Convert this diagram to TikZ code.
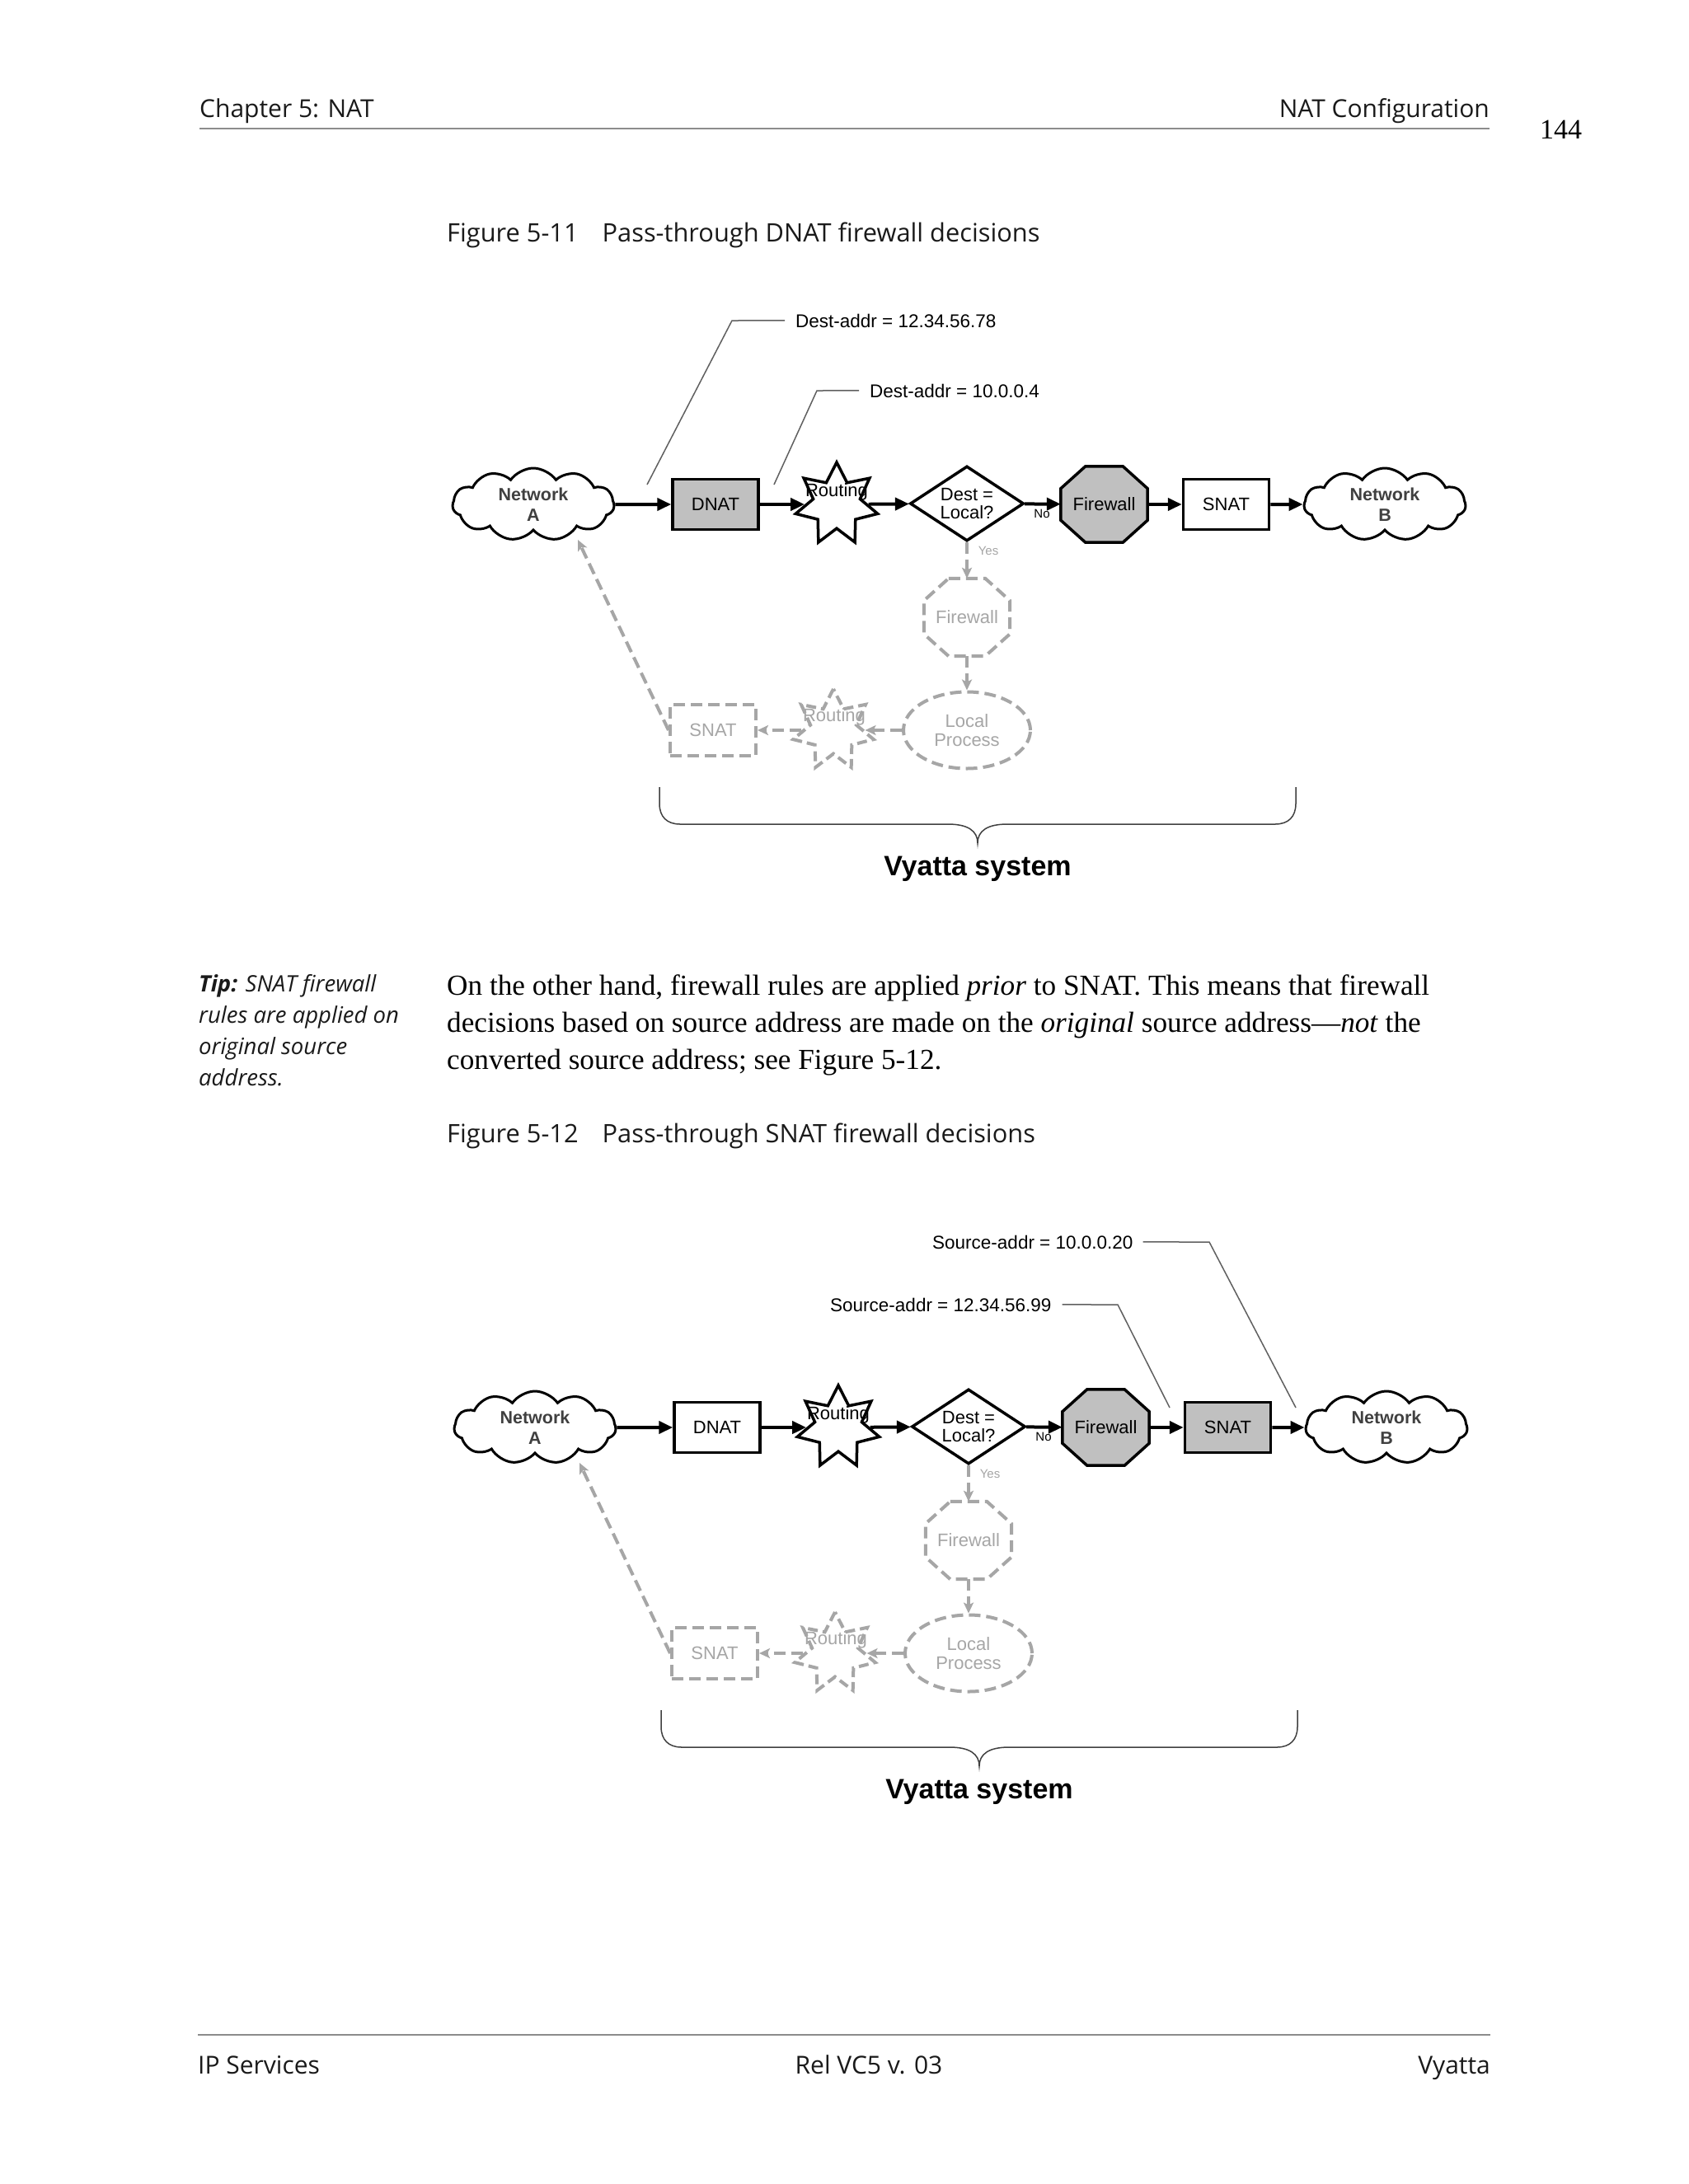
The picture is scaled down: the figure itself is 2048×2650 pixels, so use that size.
\documentclass[tikz,border=0pt]{standalone}
\usepackage{fontspec}
\setmainfont{Liberation Serif}
\newfontfamily\arialf{Liberation Sans}
\newfontfamily\frutf{Open Sans}
\usetikzlibrary{shapes.geometric,shapes.symbols,arrows.meta,calc}
\pgfdeclarelayer{pagebg}
\pgfdeclarelayer{bg}
\pgfsetlayers{pagebg,bg,main}
\definecolor{boxgray}{HTML}{C0C0C0}
\definecolor{dashgray}{HTML}{A6A6A6}
\definecolor{netgray}{HTML}{404040}
\definecolor{anngray}{HTML}{606060}
\definecolor{rulegray}{HTML}{8C8C8C}
\definecolor{pagetext}{HTML}{1A1A1A}

\newcommand\vylab{\arialf\fontsize{22}{22}\selectfont}
\newcommand\vyocto[3]{%
\begin{pgfonlayer}{bg}
\draw[#3, fill=#2] ([xshift=30pt]#1.north west) -- ([xshift=-30pt]#1.north east) -- ([yshift=-27pt]#1.north east) -- ([yshift=27pt]#1.south east) -- ([xshift=-30pt]#1.south east) -- ([xshift=30pt]#1.south west) -- ([yshift=27pt]#1.south west) -- ([yshift=-27pt]#1.north west) -- cycle;
\end{pgfonlayer}}

\tikzset{
  blk/.style={draw=black, line width=3.5pt, line join=miter},
  dshape/.style={draw=dashgray, line width=4pt, dash pattern=on 14pt off 7pt},
  procbox/.style={blk, rectangle, minimum width=104pt, minimum height=61pt, inner sep=0pt, font=\vylab},
  netcloud/.style={cloud, cloud puffs=11, cloud puff arc=110, aspect=2.25, draw=black, line width=3pt, fill=white, minimum width=196pt, minimum height=88pt, inner sep=0pt, align=center, text=netgray, font=\arialf\bfseries\fontsize{21.5}{25}\selectfont},
  rstar/.style={blk, star, star points=7, star point ratio=1.75, minimum size=102pt, inner sep=0pt, fill=white},
  dstar/.style={dshape, dash pattern=on 12pt off 6pt, star, star points=7, star point ratio=1.75, minimum size=100pt, inner sep=0pt, fill=white},
  vytext/.style={inner sep=0pt, font=\vylab, align=center},
  dtext/.style={inner sep=0pt, font=\vylab, align=center, text=dashgray},
  decis/.style={blk, diamond, aspect=1.5, minimum width=138pt, minimum height=91pt, inner sep=0pt, fill=white, align=center, font=\vylab},
  octnode/.style={rectangle, minimum width=105pt, minimum height=92pt, inner sep=0pt, font=\vylab},
  doct/.style={rectangle, minimum width=104pt, minimum height=94pt, inner sep=0pt, font=\vylab, text=dashgray},
  dell/.style={dshape, ellipse, minimum width=154pt, minimum height=93pt, inner sep=0pt, fill=white, align=center, text=dashgray, font=\arialf\fontsize{22}{23}\selectfont},
  dbox/.style={dshape, rectangle, minimum width=104pt, minimum height=62pt, inner sep=0pt, fill=white, text=dashgray, font=\vylab},
  flow/.style={line width=4pt, -{Triangle[length=17pt,width=15pt]}},
  dflow/.style={draw=dashgray, line width=4pt, dash pattern=on 14pt off 7pt, -{Stealth[length=13pt,width=12pt,inset=3pt]}},
  smalllab/.style={inner sep=0pt, font=\arialf\fontsize{15}{15}\selectfont},
  ann/.style={inner sep=0pt, font=\arialf\fontsize{22.5}{24}\selectfont},
  annline/.style={draw=anngray, line width=1.5pt},
  brace/.style={draw=netgray, line width=1.5pt},
  sysl/.style={inner sep=0pt, font=\arialf\bfseries\fontsize{34}{36}\selectfont},
  hdr/.style={inner sep=0pt, text=pagetext, font=\frutf\fontsize{30}{36}\selectfont},
  capl/.style={inner sep=0pt, text=pagetext, font=\frutf\fontsize{30.8}{36}\selectfont},
  tipl/.style={inner sep=0pt, text=pagetext, font=\frutf\itshape\fontsize{27.5}{38}\selectfont},
  bodyl/.style={inner sep=0pt, text=black, font=\fontsize{35.2}{45}\selectfont},
}

% #1 prefix, #2 shift, #3 DNAT fill, #4 SNAT fill
\newcommand\vyfig[4]{%
\begin{scope}[shift={(#2)}]
\node[netcloud] (#1netA) at (647,612) {Network\\A};
\node[procbox, fill=#3] (#1dnat) at (868,612) {DNAT};
\node[rstar] (#1rt) at (1015,612) {};
\node[vytext] (#1rtT) at (1015,597) {Routing};
\node[decis] (#1dest) at (1173,611) {Dest =\\Local?};
\node[octnode] (#1fw) at (1339.5,612) {Firewall};
\vyocto{#1fw}{boxgray}{blk}
\node[procbox, fill=#4] (#1snat) at (1487.5,612) {SNAT};
\node[netcloud] (#1netB) at (1680,612) {Network\\B};
\node[smalllab] (#1no) at (1264,623) {No};
\draw[flow] (#1netA) -- (#1dnat);
\draw[flow] (#1dnat) -- (#1rt);
\draw[flow] (#1rt) -- (#1dest);
\draw[flow] (#1dest) -- (#1fw);
\draw[flow] (#1fw) -- (#1snat);
\draw[flow] (#1snat) -- (#1netB);
% local path
\node[doct] (#1fw2) at (1173,749) {Firewall};
\vyocto{#1fw2}{white}{dshape}
\node[dell] (#1lp) at (1173,886) {Local\\Process};
\node[dstar] (#1rt2) at (1011,886) {};
\node[dtext] (#1rt2T) at (1012,870) {Routing};
\node[dbox] (#1snat2) at (865,886) {SNAT};
\node[smalllab, text=dashgray] (#1yes) at (1199,668) {Yes};
\coordinate (#1aTip) at (701,655);
\draw[dflow] (#1dest) -- (#1fw2);
\draw[dflow] (#1fw2) -- (#1lp);
\draw[dflow] (#1lp) -- (#1rt2);
\draw[dflow] (#1rt2) -- (#1snat2);
\draw[dflow] (#1snat2.west) -- (#1aTip);
% brace
\draw[brace] (800,955) -- (800,975) .. controls (800,991) and (809,1000) .. (825,1000) -- (1150,1000) .. controls (1174,1000) and (1186,1008) .. (1186,1023) .. controls (1186,1008) and (1198,1000) .. (1222,1000) -- (1547,1000) .. controls (1563,1000) and (1572,991) .. (1572,975) -- (1572,955);
\node[sysl, anchor=base] (#1sys) at (1186,1062) {Vyatta system};
\end{scope}}

\begin{document}
\begin{tikzpicture}[x=1pt,y=-1pt]
\begin{pgfonlayer}{pagebg}
\fill[white] (0,0) rectangle (2048,2650);
\end{pgfonlayer}
\useasboundingbox (0,0) rectangle (2048,2650);

% header
\node[hdr, anchor=base west] (hl) at (242,142) {Chapter 5: NAT};
\node[hdr, anchor=base east] (hr) at (1807,142) {NAT Configuration};
\node[inner sep=0pt, anchor=base west, font=\fontsize{34}{36}\selectfont] (pg) at (1868,168) {144};
\draw[rulegray, line width=2.5pt] (242,156) -- (1807,156);

% caption 1
\node[capl, anchor=base west] (cap1) at (542,293) {Figure 5-11\hspace{29pt}Pass-through DNAT firewall decisions};

% figure 1
\vyfig{a}{0,0}{boxgray}{white}
\node[ann, anchor=base west] (ann1) at (965,397) {Dest-addr = 12.34.56.78};
\node[ann, anchor=base west] (ann2) at (1055,482) {Dest-addr = 10.0.0.4};
\coordinate (ann1s) at (785,588);
\coordinate (ann1b) at (888,389);
\coordinate (ann2s) at (939,588);
\coordinate (ann2b) at (991,474);
\draw[annline] (ann1s) -- (ann1b) -- ([xshift=-13pt]ann1.west);
\draw[annline] (ann2s) -- (ann2b) -- ([xshift=-13pt]ann2.west);

% side tip and body text
\node[tipl, anchor=base west] (tip1) at (241,1203) {\textbf{Tip:} SNAT firewall};
\node[tipl, anchor=base west] (tip2) at (241,1241) {rules are applied on};
\node[tipl, anchor=base west] (tip3) at (241,1279) {original source};
\node[tipl, anchor=base west] (tip4) at (241,1317) {address.};
\node[bodyl, anchor=base west] (body1) at (542,1207) {On the other hand, firewall rules are applied \textit{prior} to SNAT. This means that firewall};
\node[bodyl, anchor=base west] (body2) at (542,1252) {decisions based on source address are made on the \textit{original} source address---\textit{not} the};
\node[bodyl, anchor=base west] (body3) at (542,1297) {converted source address; see Figure 5-12.};

% caption 2
\node[capl, anchor=base west] (cap2) at (542,1386) {Figure 5-12\hspace{29pt}Pass-through SNAT firewall decisions};

% figure 2
\vyfig{b}{2,1120}{white}{boxgray}
\node[ann, anchor=base west] (ann3) at (1131,1515) {Source-addr = 10.0.0.20};
\node[ann, anchor=base west] (ann4) at (1007,1591) {Source-addr = 12.34.56.99};
\coordinate (ann3s) at (1572,1708);
\coordinate (ann3b) at (1467,1507);
\coordinate (ann4s) at (1419,1708);
\coordinate (ann4b) at (1356,1583);
\draw[annline] (ann3s) -- (ann3b) -- ([xshift=12pt]ann3.east);
\draw[annline] (ann4s) -- (ann4b) -- ([xshift=13pt]ann4.east);

% footer
\draw[rulegray, line width=2.5pt] (240,2469) -- (1808,2469);
\node[hdr, anchor=base west] (fl) at (240,2516) {IP Services};
\node[hdr, anchor=base] (fc) at (1054,2516) {Rel VC5 v. 03};
\node[hdr, anchor=base east] (fr) at (1808,2516) {Vyatta};
\end{tikzpicture}
\end{document}
